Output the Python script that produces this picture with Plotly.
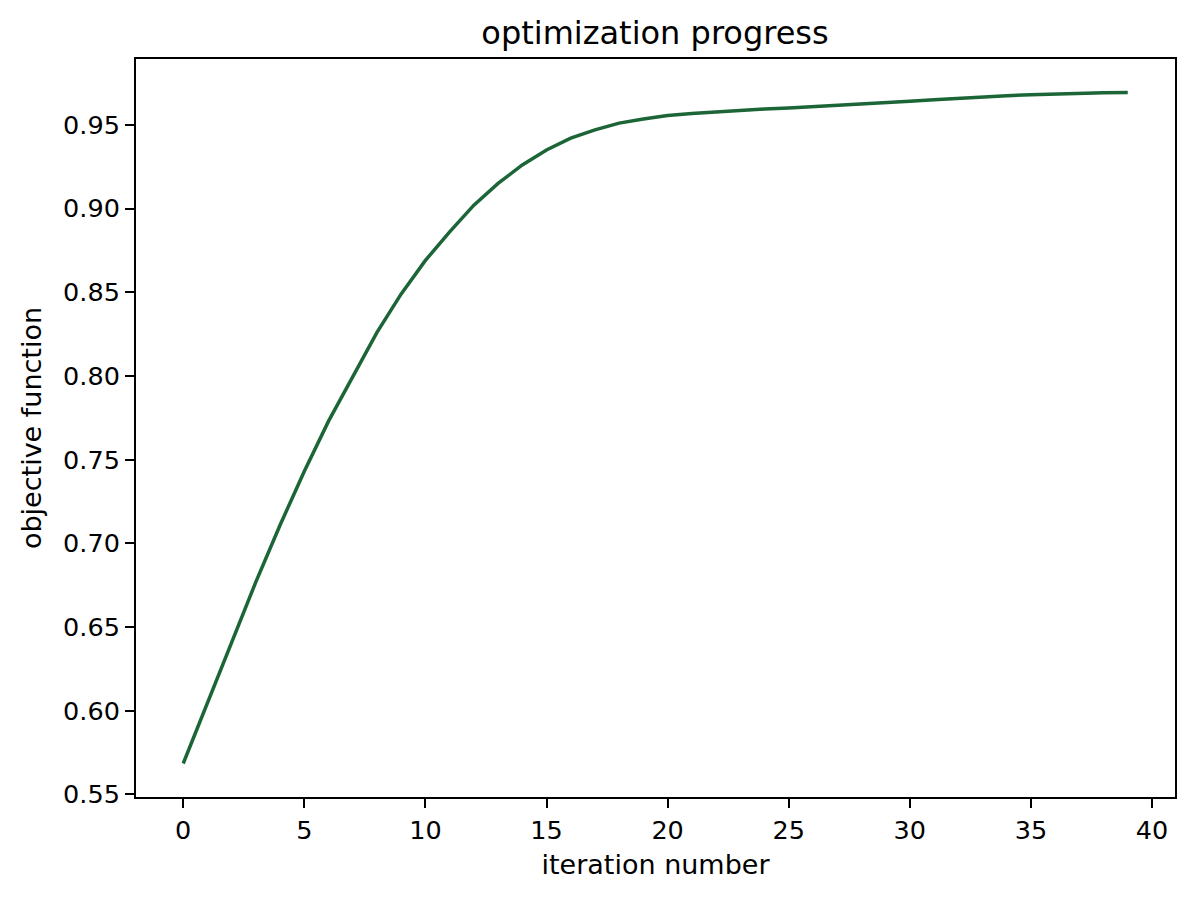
import plotly.graph_objects as go

# objective value per iteration
iterations = list(range(40))
objective = [
    0.5685, 0.605, 0.641, 0.677, 0.711, 0.743, 0.773, 0.800, 0.826, 0.849,
    0.869, 0.886, 0.902, 0.915, 0.926, 0.935, 0.942, 0.947, 0.951, 0.9535,
    0.9555, 0.9568, 0.9578, 0.9587, 0.9594, 0.9601, 0.9608, 0.9615, 0.9622, 0.9630,
    0.9640, 0.9650, 0.9659, 0.9667, 0.9674, 0.9680, 0.9685, 0.9688, 0.9691, 0.9693,
]
x_ticks = list(range(0, 41, 5))
y_ticks = [0.55, 0.60, 0.65, 0.70, 0.75, 0.80, 0.85, 0.90, 0.95]

fig = go.Figure()
fig.add_trace(go.Scatter(
    x=iterations, y=objective, mode="lines",
    line=dict(color="#1b6537", width=3.5),
    showlegend=False,
))

axis_style = dict(
    showline=True, linecolor="black", linewidth=2, mirror=True,
    showgrid=False, zeroline=False,
    ticks="outside", ticklen=9, tickwidth=2, tickcolor="black",
    tickfont=dict(size=25.5, color="black"),
)

fig.update_xaxes(
    range=[-1.95, 40.95], tickvals=x_ticks,
    title=dict(text="iteration number", font=dict(size=27, color="black"), standoff=12),
    **axis_style,
)
fig.update_yaxes(
    range=[0.5485, 0.9893], tickvals=y_ticks, tickformat=".2f",
    title=dict(text="objective function", font=dict(size=27, color="black"), standoff=14),
    **axis_style,
)

# page has an 8px body margin, so everything is shifted back by 8px
fig.update_layout(
    width=1196, height=901,
    margin=dict(l=128, r=29, t=51, b=112),
    paper_bgcolor="white", plot_bgcolor="white",
    font=dict(family="DejaVu Sans", color="black"),
    title=dict(text="optimization progress", x=(655 - 8) / 1196, xanchor="center",
               y=1 - 25 / 901, yanchor="middle", font=dict(size=32, color="black")),
)

fig.write_html("out.html")
